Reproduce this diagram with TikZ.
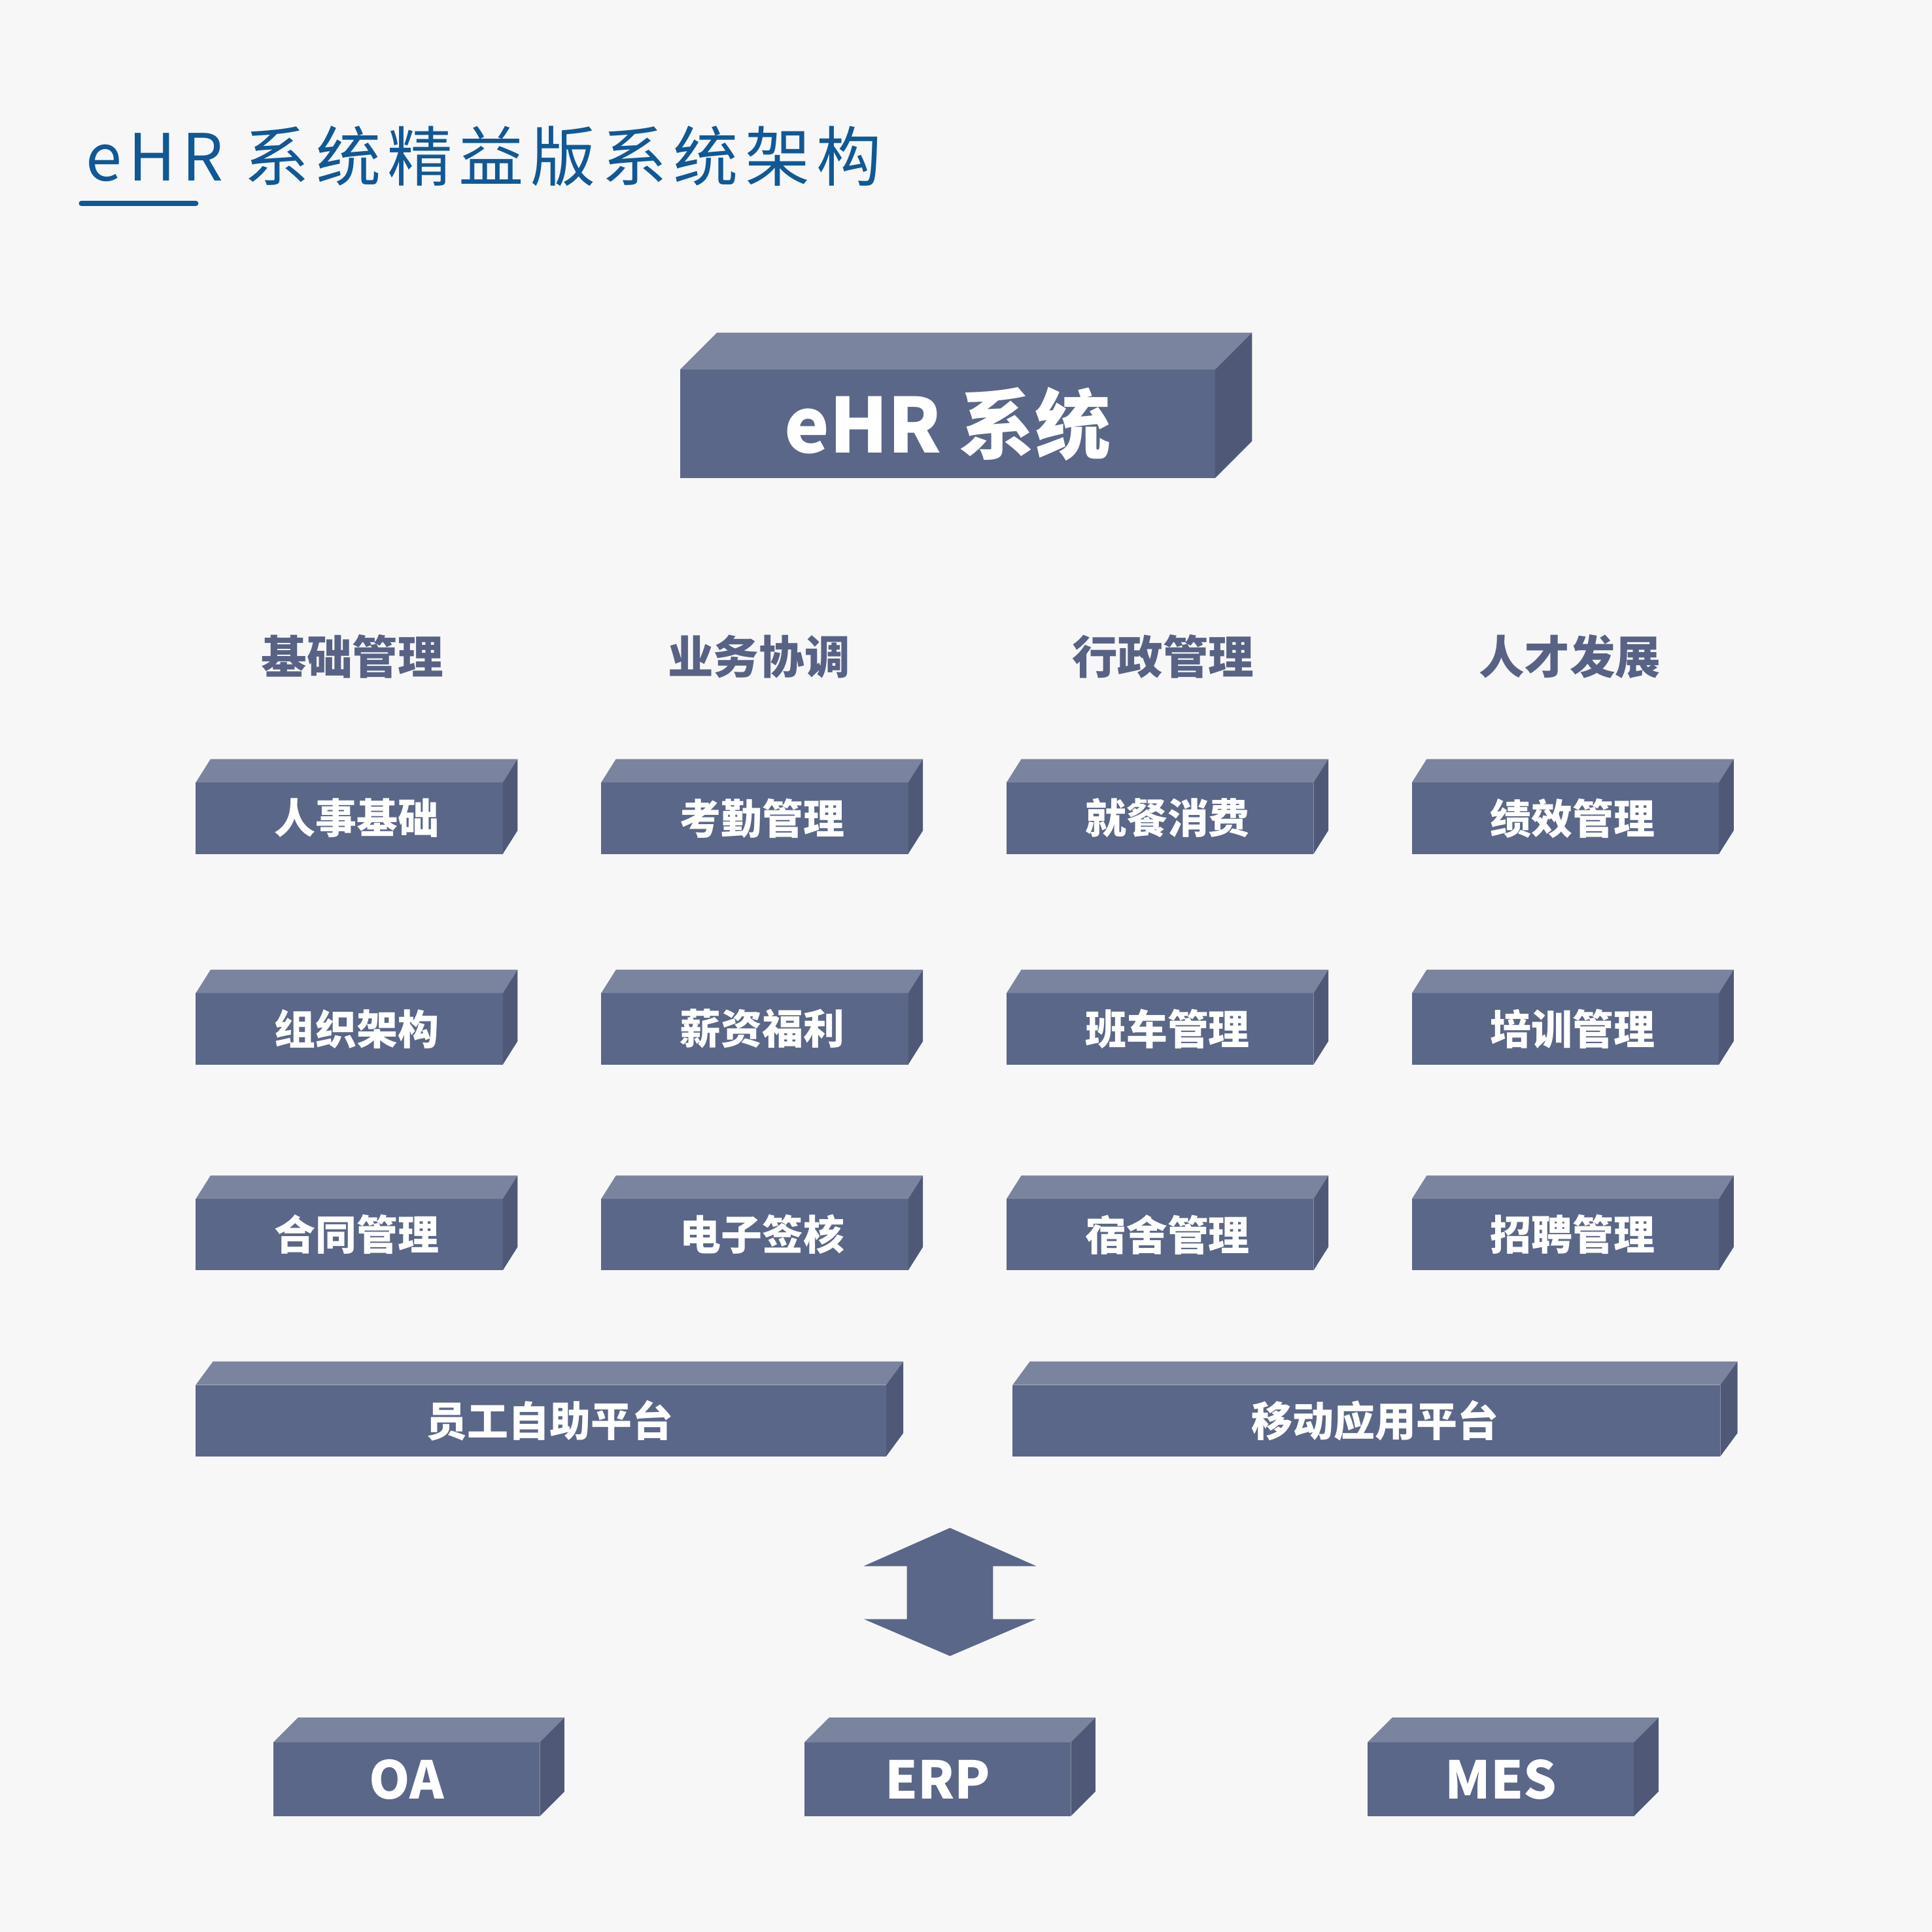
\documentclass[tikz,border=0pt]{standalone}
\usepackage{fontspec}
\setmainfont{Noto Sans CJK SC}
\usepackage{tikz}
\usetikzlibrary{positioning}
\definecolor{bg_gray}{RGB}{247,247,247}
\definecolor{title_blue}{RGB}{16,88,150}
\definecolor{head_slate}{RGB}{88,98,132}
\definecolor{face_front}{RGB}{91,103,136}
\definecolor{face_top}{RGB}{122,132,159}
\definecolor{face_side}{RGB}{79,89,119}
\tikzset{
    block_base/.style={
        rectangle, fill=face_front, text=white, inner sep=0pt, outer sep=0pt,
        align=center, font=\bfseries\fontsize{9.5}{11}\selectfont
    },
    box_small/.style={
        block_base, minimum width=2.49cm, minimum height=0.58cm,
        execute at begin node={\hspace*{1.2mm}}
    },
    box_wide/.style={
        block_base, minimum height=0.58cm,
        execute at begin node={\hspace*{1.4mm}}
    },
    box_top/.style={
        block_base, minimum width=4.34cm, minimum height=0.88cm,
        font=\bfseries\fontsize{17.5}{19}\selectfont
    },
    box_sys/.style={
        block_base, minimum width=2.16cm, minimum height=0.60cm,
        font=\bfseries\fontsize{12}{13}\selectfont
    },
    top_face/.style={fill=face_top},
    side_face/.style={fill=face_side},
    head_lbl/.style={
        text=head_slate, inner sep=0pt, font=\bfseries\fontsize{10.5}{12}\selectfont
    },
    title_lbl/.style={
        text=title_blue, inner sep=0pt,
        font=\fontsize{15}{17}\selectfont\addfontfeatures{LetterSpace=10}
    },
    title_rule/.style={draw=title_blue, line width=1.15pt, line cap=round},
    link_arrow/.style={fill=face_front}
}
\begin{document}
\begin{tikzpicture}[x=0.01cm, y=-0.01cm]
    % Background
    \fill[bg_gray] (0,0) rectangle (1568,1568);

    % Title
    \node[title_lbl, anchor=base west] (title) at (69,147) {eHR 系统精益版系统架构};
    \draw[title_rule] (66,165) -- (159,165);

    % Core system
    \node[box_top] (ehr) at (769,344) {eHR 系统};

    % Column headers
    \node[head_lbl] (h_base) at (286,533) {基础管理};
    \node[head_lbl] (h_biz) at (616,533) {业务协调};
    \node[head_lbl] (h_admin) at (944,533) {行政管理};
    \node[head_lbl] (h_talent) at (1274,533) {人才发展};

    % Row 1
    \node[box_small] (hr_base) at (283.5,664) {人事基础};
    \node[box_small] (attend) at (612.5,664) {考勤管理};
    \node[box_small] (dining) at (941.5,664) {就餐消费};
    \node[box_small] (perf) at (1270.5,664) {绩效管理};

    % Row 2
    \node[box_small] (org) at (283.5,835) {组织架构};
    \node[box_small] (salary) at (612.5,835) {薪资福利};
    \node[box_small] (shuttle) at (941.5,835) {班车管理};
    \node[box_small] (train) at (1270.5,835) {培训管理};

    % Row 3
    \node[box_small] (contract) at (283.5,1002) {合同管理};
    \node[box_small] (esign) at (612.5,1002) {电子签核};
    \node[box_small] (dorm) at (941.5,1002) {宿舍管理};
    \node[box_small] (recruit) at (1270.5,1002) {招聘管理};

    % Platforms
    \node[box_wide, minimum width=5.60cm] (self_svc) at (439,1153) {员工自助平台};
    \node[box_wide, minimum width=5.74cm] (mobile) at (1109,1153) {移动应用平台};

    % External systems
    \node[box_sys] (oa) at (330,1444) {OA};
    \node[box_sys] (erp) at (761,1444) {ERP};
    \node[box_sys] (mes) at (1218,1444) {MES};

    % Top and side faces
    \foreach \n/\dx/\dy in {ehr/30/30, hr_base/12/19, attend/12/19, dining/12/19, perf/12/19,
        org/12/19, salary/12/19, shuttle/12/19, train/12/19,
        contract/12/19, esign/12/19, dorm/12/19, recruit/12/19,
        self_svc/14/19, mobile/14/19, oa/20/20, erp/20/20, mes/20/20} {
        \fill[top_face] (\n.north west) -- ([shift={(\dx,-\dy)}]\n.north west)
            -- ([shift={(\dx,-\dy)}]\n.north east) -- (\n.north east) -- cycle;
        \fill[side_face] (\n.north east) -- ([shift={(\dx,-\dy)}]\n.north east)
            -- ([shift={(\dx,-\dy)}]\n.south east) -- (\n.south east) -- cycle;
    }

    % Two-way link
    \fill[link_arrow, shift={(771,1292)}] (0,-52) -- (70,-21) -- (35,-21) -- (35,22) -- (70,22)
        -- (0,52) -- (-70,22) -- (-35,22) -- (-35,-21) -- (-70,-21) -- cycle;
\end{tikzpicture}
\end{document}
